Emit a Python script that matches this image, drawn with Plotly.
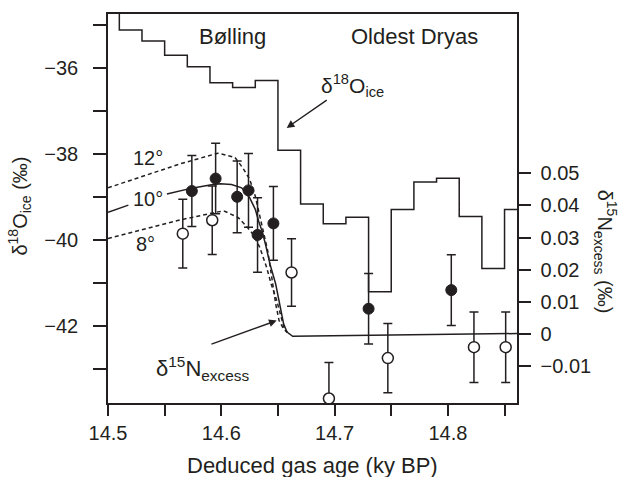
import plotly.graph_objects as go

INK = "#231f20"
FONT = "Liberation Sans, Arial, Helvetica, sans-serif"
PAD = "\u00a0\u00a0"

# --- δ18O of ice: stepwise record (segment start age, value in ‰) ---
d18o_age = [14.49, 14.51, 14.53, 14.55, 14.57, 14.59, 14.61, 14.63, 14.65, 14.67,
            14.69, 14.71, 14.73, 14.75, 14.77, 14.79, 14.81, 14.83, 14.85, 14.87]
d18o_val = [-34.50, -35.12, -35.38, -35.71, -35.98, -36.35, -36.46, -36.30, -37.92, -39.17,
            -39.63, -39.48, -41.21, -39.30, -38.66, -38.57, -39.46, -40.67, -39.30, -39.30]

# --- δ15N excess measurements (‰) ---
filled_age = [14.574, 14.595, 14.614, 14.624, 14.632, 14.646, 14.730, 14.803]
filled_val = [0.0445, 0.0484, 0.0427, 0.0447, 0.0308, 0.0344, 0.0078, 0.0136]
filled_err = [0.0111, 0.0110, 0.0112, 0.0115, 0.0116, 0.0115, 0.0110, 0.0110]

open_age = [14.566, 14.592, 14.662, 14.695, 14.747, 14.823, 14.851]
open_val = [0.0312, 0.0354, 0.0191, -0.0202, -0.0076, -0.0042, -0.0042]
open_err = [0.0107, 0.0107, 0.0105, 0.0112, 0.0108, 0.0110, 0.0110]

# --- modelled δ15N excess for three temperature changes ---
m10_age = [14.500, 14.518, None, 14.552, 14.574, 14.590, 14.599, 14.609, 14.618, 14.625,
           14.630, 14.633, 14.636, 14.639, 14.643, 14.648, 14.652, 14.655, 14.658, 14.663,
           14.870]
m10_val = [0.0379, 0.0401, None, 0.0436, 0.0454, 0.0464, 0.0468, 0.0465, 0.0455, 0.0424,
           0.0388, 0.0351, 0.0320, 0.0279, 0.0217, 0.0155, 0.0083, 0.0031, 0.0005, -0.0008,
           0.0001]

m12_age = [14.500, 14.528, 14.564, 14.597, 14.608, 14.612, 14.619, 14.625, 14.630,
           14.635, 14.641, 14.645, 14.648, 14.651, 14.655, 14.658]
m12_val = [0.0455, 0.0488, 0.0530, 0.0563, 0.0555, 0.0550, 0.0517, 0.0482, 0.0429,
           0.0351, 0.0258, 0.0165, 0.0093, 0.0041, 0.0015, 0.0005]

m8_age = [14.500, 14.528, 14.564, 14.597, 14.603, 14.615, 14.622, 14.628, 14.634,
          14.640, 14.644, 14.649, 14.652, 14.655, 14.658]
m8_val = [0.0297, 0.0323, 0.0355, 0.0380, 0.0382, 0.0362, 0.0336, 0.0310, 0.0269,
          0.0207, 0.0155, 0.0103, 0.0062, 0.0023, 0.0004]

# --- axis ticks ---
x_ticks = [14.50, 14.55, 14.60, 14.65, 14.70, 14.75, 14.80, 14.85]
x_labels = ["14.5", "", "14.6", "", "14.7", "", "14.8", ""]
y_ticks = [-43, -42, -41, -40, -39, -38, -37, -36, -35]
y_labels = ["", "−42", "", "−40", "", "−38", "", "−36", ""]
y2_ticks = [-0.01, 0.0, 0.01, 0.02, 0.03, 0.04, 0.05]
y2_labels = ["−0.01", "0", "0.01", "0.02", "0.03", "0.04", "0.05"]

fig = go.Figure()

fig.add_trace(go.Scatter(
    x=d18o_age, y=d18o_val, mode="lines", line=dict(color=INK, width=1.5, shape="hv"),
    showlegend=False, hoverinfo="skip"))

for ages, vals, dash in [(m12_age, m12_val, "4px,3px"), (m8_age, m8_val, "4px,3px"),
                         (m10_age, m10_val, "solid")]:
    fig.add_trace(go.Scatter(
        x=ages, y=vals, yaxis="y2", mode="lines", connectgaps=False,
        line=dict(color=INK, width=1.5, dash=dash, shape="linear"),
        showlegend=False, hoverinfo="skip"))

fig.add_trace(go.Scatter(
    x=open_age, y=open_val, yaxis="y2", mode="markers",
    error_y=dict(type="data", array=open_err, color=INK, thickness=1.5, width=4.5),
    marker=dict(symbol="circle", size=11, color="white", line=dict(color=INK, width=1.5)),
    showlegend=False))

fig.add_trace(go.Scatter(
    x=filled_age, y=filled_val, yaxis="y2", mode="markers",
    error_y=dict(type="data", array=filled_err, color=INK, thickness=1.5, width=4.5),
    marker=dict(symbol="circle", size=11, color=INK, line=dict(color=INK, width=1)),
    showlegend=False))

tick_font = dict(family=FONT, size=20, color=INK)
big = dict(family=FONT, size=22, color=INK)
mid = dict(family=FONT, size=21, color=INK)
annotations = [
    dict(x=14.6103, y=-35.28, xref="x", yref="y", text="Bølling", showarrow=False, font=big),
    dict(x=14.7709, y=-35.28, xref="x", yref="y", text="Oldest Dryas", showarrow=False, font=big),
    dict(x=14.7162, y=-36.42, xref="x", yref="y", text="δ<sup>18</sup>O<sub>ice</sub>",
         showarrow=False, font=mid),
    dict(x=14.6577, y=-37.40, xref="x", yref="y", ax=14.6944, ay=-36.73, axref="x", ayref="y",
         text="", showarrow=True, arrowhead=2, arrowsize=1.1, arrowwidth=1.4, arrowcolor=INK),
    dict(x=14.5838, y=-0.0108, xref="x", yref="y2", text="δ<sup>15</sup>N<sub>excess</sub>",
         showarrow=False, font=big),
    dict(x=14.6489, y=0.0041, xref="x", yref="y2", ax=14.590, ay=-0.0034, axref="x", ayref="y2",
         text="", showarrow=True, arrowhead=2, arrowsize=1.1, arrowwidth=1.4, arrowcolor=INK),
    dict(x=14.5349, y=0.0547, xref="x", yref="y2", text="12°", showarrow=False, font=tick_font),
    dict(x=14.5349, y=0.0420, xref="x", yref="y2", text="10°", showarrow=False, font=tick_font),
    dict(x=14.5335, y=0.0280, xref="x", yref="y2", text="8°", showarrow=False, font=tick_font),
    # axis titles
    dict(x=0.5, y=0, xref="paper", yref="paper", yshift=-62, text="Deduced gas age (ky BP)",
         showarrow=False, font=big, xanchor="center", yanchor="middle"),
    dict(x=0, y=0.505, xref="paper", yref="paper", xshift=-88, textangle=-90,
         text="δ<sup>18</sup>O<sub>ice</sub> (‰)", showarrow=False, font=tick_font,
         xanchor="center", yanchor="middle"),
    dict(x=1, y=0.389, xref="paper", yref="paper", xshift=88, textangle=90,
         text="δ<sup>15</sup>N<sub>excess</sub> (‰)", showarrow=False, font=tick_font,
         xanchor="center", yanchor="middle"),
]

axis_common = dict(showgrid=False, zeroline=False, ticks="outside", tickwidth=1.5,
                   tickcolor=INK, tickfont=tick_font)

fig.update_layout(
    width=619, height=477,
    margin=dict(l=108, r=102, t=12, b=74),
    paper_bgcolor="white", plot_bgcolor="white",
    font=tick_font,
    xaxis=dict(range=[14.5, 14.861], tickmode="array", tickvals=x_ticks, ticktext=x_labels,
               ticklen=11, showline=True, linecolor=INK, linewidth=1.5, mirror=True,
               **axis_common),
    yaxis=dict(range=[-43.8, -34.75], tickmode="array", tickvals=y_ticks,
               ticktext=[t + PAD if t else t for t in y_labels],
               ticklen=13, showline=True, linecolor=INK, linewidth=1.5,
               mirror=True, **axis_common),
    yaxis2=dict(range=[-0.0216, 0.0997], overlaying="y", side="right", tickmode="array",
                tickvals=y2_ticks, ticktext=["\u00a0" + t for t in y2_labels], ticklen=13,
                showline=False, **axis_common),
    annotations=annotations,
    showlegend=False,
)

fig.write_html("out.html")
